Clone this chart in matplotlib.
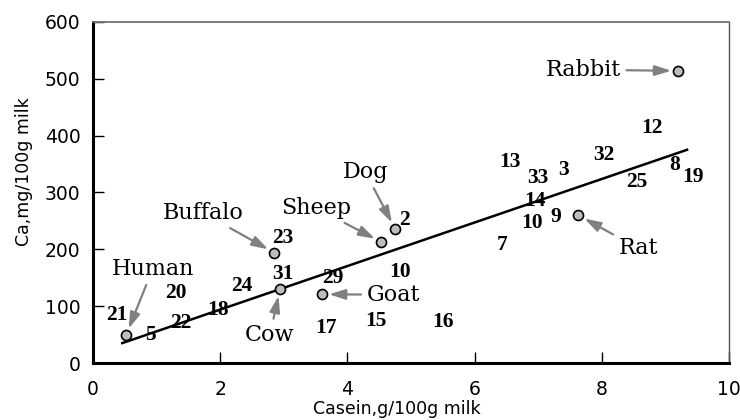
import matplotlib
matplotlib.use("Agg")
import matplotlib.pyplot as plt

# named species (casein g/100g, Ca mg/100g)
species = ["Human", "Buffalo", "Cow", "Goat", "Sheep", "Dog", "Rat", "Rabbit"]
casein = [0.52, 2.85, 2.94, 3.6, 4.53, 4.75, 7.63, 9.2]
calcium = [49, 194, 130, 121, 213, 236, 260, 514]

# numbered species, plotted as their number only
num_ids = ["21", "5", "20", "22", "18", "24", "23", "31", "29", "17", "15", "10",
           "2", "16", "7", "10", "14", "9", "13", "33", "3", "32", "12", "25", "8", "19"]
num_x = [0.37, 0.9, 1.3, 1.38, 1.97, 2.34, 2.99, 2.99, 3.77, 3.66, 4.45, 4.83,
         4.9, 5.5, 6.43, 6.9, 6.95, 7.28, 6.56, 7.0, 7.39, 8.03, 8.79, 8.55, 9.15, 9.43]
num_y = [84, 49, 123, 70, 93, 136, 220, 157, 150, 62, 74, 160,
         252, 72, 208, 246, 285, 257, 354, 326, 340, 366, 414, 319, 349, 327]

# regression line
fit_x = [0.46, 9.34]
fit_intercept = 17.4
fit_slope = 38.3

# where each name is written (layout)
label_pos = {
    "Human": (0.94, 166, "center"),
    "Buffalo": (1.73, 264, "center"),
    "Cow": (2.78, 49, "center"),
    "Goat": (4.3, 120, "left"),
    "Sheep": (3.5, 273, "center"),
    "Dog": (4.28, 336, "center"),
    "Rat": (8.57, 202, "center"),
    "Rabbit": (8.3, 516, "right"),
}

name_font = ["DejaVu Serif"]
num_font = ["Liberation Serif", "DejaVu Serif"]

fig = plt.figure(figsize=(7.4, 4.2), dpi=100)
ax = fig.add_axes([0.1257, 0.1357, 0.8595, 0.812])

fit_y = [fit_intercept + fit_slope * v for v in fit_x]
ax.plot(fit_x, fit_y, color="black", lw=1.8, zorder=2)

ax.scatter(casein, calcium, s=52, facecolor="#bdbdbd", edgecolor="black",
           linewidth=1.2, zorder=4)

for name, x, y in zip(species, casein, calcium):
    tx, ty, ha = label_pos[name]
    ax.annotate(name, xy=(x, y), xytext=(tx, ty), ha=ha, va="center",
                fontsize=16, family=name_font,
                arrowprops=dict(arrowstyle="-|>,head_length=0.7,head_width=0.22",
                                color="#808080", lw=1.6, mutation_scale=14,
                                shrinkA=2, shrinkB=5))

for t, x, y in zip(num_ids, num_x, num_y):
    ax.text(x, y, t, ha="center", va="center", fontsize=15.5,
            fontweight="bold", family=num_font, zorder=3)

ax.set_xlim(0, 10)
ax.set_ylim(0, 600)
ax.set_xticks([0, 2, 4, 6, 8, 10])
ax.set_yticks([0, 100, 200, 300, 400, 500, 600])
ax.tick_params(direction="in", length=8, width=1, labelsize=13.5,
               top=False, right=False)
ax.tick_params(axis="x", pad=12)
ax.tick_params(axis="y", pad=9)

ax.spines["left"].set_linewidth(2.2)
ax.spines["bottom"].set_linewidth(2.2)
ax.spines["top"].set_color("#707070")
ax.spines["top"].set_linewidth(1.3)
ax.spines["right"].set_color("#505050")
ax.spines["right"].set_linewidth(1)

ax.set_xlabel("Casein,g/100g milk", fontsize=12.5)
ax.xaxis.set_label_coords(0.477, -0.108)
ax.set_ylabel("Ca,mg/100g milk", fontsize=12.5)
ax.yaxis.set_label_coords(-0.094, 0.56)

fig.savefig("out.png", dpi=100)
